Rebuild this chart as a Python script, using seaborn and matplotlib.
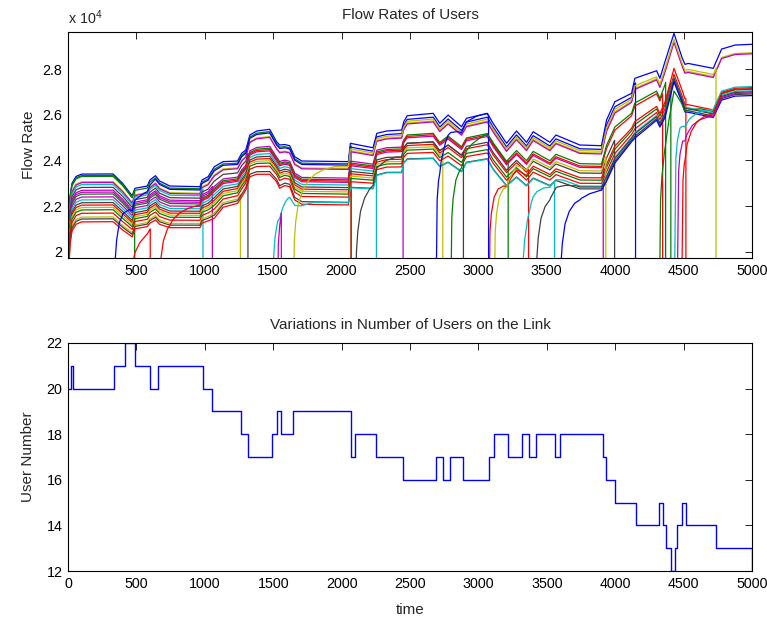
import numpy as np
import pandas as pd
import matplotlib
matplotlib.use("Agg")
import matplotlib.pyplot as plt
import seaborn as sns

# ---- link occupancy (step series) ----
step_time = [0, 25, 35, 336, 415, 488, 602, 658, 987, 1056, 1261, 1316, 1494, 1528,
             1560, 1645, 2070, 2099, 2255, 2450, 2689, 2740, 2796, 2891, 3075, 3113,
             3218, 3318, 3367, 3418, 3557, 3594, 3913, 3932, 3996, 4149, 4322, 4347,
             4369, 4407, 4434, 4454, 4486, 4517, 4737, 5000]
step_users = [20, 21, 20, 21, 22, 21, 20, 21, 20, 19, 18, 17, 18, 19,
              18, 19, 17, 18, 17, 16, 17, 16, 17, 16, 17, 18,
              17, 18, 17, 18, 17, 18, 17, 16, 15, 14, 15, 14,
              13, 12, 13, 14, 15, 14, 13, 12]

# ---- envelope of the rate band (highest / lowest settled user) ----
band_time = [0, 330, 400, 470, 490, 580, 600, 640, 670, 745, 965, 980, 1025, 1070,
             1135, 1240, 1270, 1300, 1330, 1380, 1475, 1525, 1548, 1585, 1621, 1658,
             1710, 2050, 2065, 2230, 2258, 2330, 2440, 2455, 2480, 2670, 2718, 2779,
             2877, 2913, 3065, 3108, 3206, 3279, 3352, 3401, 3523, 3567, 3742, 3900,
             3937, 3998, 4120, 4144, 4303, 4327, 4364, 4430, 4490, 4510, 4534, 4717,
             4778, 4876, 5000]
band_top = [23400, 23410, 23000, 22450, 22780, 22880, 23145, 23333, 23100, 22880, 22850,
            23145, 23290, 23728, 23950, 23975, 24316, 24460, 25118, 25294, 25369, 24825,
            24680, 24700, 24650, 24167, 23978, 23950, 24754, 24560, 25193, 25294, 25338,
            25702, 25965, 26070, 25632, 25996, 25483, 25851, 26070, 25632, 24754, 25294,
            24798, 25264, 24798, 25118, 24680, 24650, 25776, 26580, 26948, 27606, 27940,
            27606, 28334, 29579, 28500, 28219, 28260, 28044, 28890, 29066, 29100]
band_bottom = [21300, 21316, 20950, 20650, 21000, 21100, 21250, 21390, 21200, 21053, 21053,
               21250, 21350, 21465, 21950, 22120, 22400, 22700, 23290, 23395, 23395, 23070,
               22780, 22900, 22850, 22267, 22079, 22050, 22700, 22662, 23250, 23364, 23364,
               23800, 23950, 23978, 23627, 23800, 23395, 23800, 23950, 23500, 22780, 23150,
               22780, 23100, 22780, 23000, 22632, 22632, 23000, 23803, 24754, 24900, 25702,
               25400, 25800, 27386, 26465, 26070, 26050, 25820, 26580, 26755, 26780]

# ---- start-up transient (time since join, shortfall below settled rate) ----
ramp_dt = [0, 10, 20, 40, 70, 110, 160, 220, 300]
ramp_gap = [-9000, -3500, -2600, -1700, -1100, -650, -350, -150, 0]
# users present from the start settle much faster
start_dt = [0, 5, 15, 30, 60, 100]
start_gap = [-9000, -2500, -1000, -400, -100, 0]

# ---- users: admission time, departure time, position in band, colour ----
user_join = [0, 0, 0, 0, 0, 0, 0, 0, 0, 0, 0, 0, 0, 0, 0, 0, 0, 0, 0, 0,
             336, 415, 658, 1494, 1528, 1645, 2099, 2689, 2796, 3075, 3113,
             3318, 3418, 3594, 4322, 4434, 4454, 4486]
user_leave = [None, 488, 2070, None, None, 987, 1316, 1056, 2450, 3218, 3913, 2255,
              3996, 3367, 2740, 4407, 1261, None, None, 2070,
              4149, 602, 4347, 3557, 1560, 4737, 2891, 3075, 4369, 4517, 3932,
              None, None, None, None, None, None, None]
user_share = [1.00, 0.97, 0.95, 0.84, 0.82, 0.78, 0.72, 0.66, 0.62, 0.58, 0.52, 0.46,
              0.40, 0.35, 0.30, 0.25, 0.10, 0.18, 0.06, 0.00,
              0.92, 0.00, 0.55, 0.05, 0.50, 0.88, 0.40, 0.995, 0.60, 0.30, 0.45,
              0.12, 0.10, 0.03, 0.15, 0.20, 0.08, 0.16]
user_color = ["b", "g", "g", "y", "m", "c", "k", "m", "m", "g", "m", "c",
              "k", "r", "y", "g", "y", "r", "k", "r",
              "b", "r", "r", "c", "m", "y", "k", "b", "g", "r", "y",
              "c", "k", "b", "g", "c", "m", "r"]

matlab_colors = {"b": (0, 0, 1), "g": (0, 0.5, 0), "r": (1, 0, 0),
                 "c": (0, 0.75, 0.75), "m": (0.75, 0, 0.75),
                 "y": (0.75, 0.75, 0), "k": (0.25, 0.25, 0.25)}

T_END = 5000
FLOW_LOW, FLOW_HIGH = 19720, 29640
FS = 11
TICK_FS = 10.3


def user_track(join, leave, share):
    dts, gaps = (start_dt, start_gap) if join == 0 else (ramp_dt, ramp_gap)
    stop = T_END if leave is None else leave
    ts = sorted(set([join + d for d in dts if join + d < stop]
                    + [k for k in band_time if join < k < stop] + [stop]))
    ts = np.array(ts, dtype=float)
    top = np.interp(ts, band_time, band_top)
    bot = np.interp(ts, band_time, band_bottom)
    level = bot + share * (top - bot)
    level = level + np.interp(ts - join, dts, gaps)
    if leave is not None:
        ts = np.append(ts, leave)
        level = np.append(level, 12000)
    return ts, level


sns.set_theme(style="white")
plt.rcParams["font.family"] = ["Liberation Sans", "DejaVu Sans"]
plt.rcParams["mathtext.default"] = "regular"

fig = plt.figure(figsize=(7.67, 6.21), dpi=100)
ax1 = fig.add_axes([0.0887, 0.5845, 0.8917, 0.3640])
ax2 = fig.add_axes([0.0887, 0.0805, 0.8917, 0.3672])

frames = []
for i, (j, l, s) in enumerate(zip(user_join, user_leave, user_share)):
    ts, vs = user_track(j, l, s)
    frames.append(pd.DataFrame({"time": ts, "rate": vs, "user": i}))
flows = pd.concat(frames, ignore_index=True)

palette = {i: matlab_colors[c] for i, c in enumerate(user_color)}
sns.lineplot(data=flows, x="time", y="rate", hue="user", units="user",
             estimator=None, sort=False, palette=palette, legend=False,
             linewidth=0.9, ax=ax1)

ax1.set_xlim(1, T_END)
ax1.set_ylim(FLOW_LOW, FLOW_HIGH)
ax1.set_xticks([500, 1000, 1500, 2000, 2500, 3000, 3500, 4000, 4500, 5000])
ax1.set_yticks([20000, 22000, 24000, 26000, 28000])
ax1.set_yticklabels(["2", "2.2", "2.4", "2.6", "2.8"])
ax1.set_xlabel("")
ax1.set_ylabel("Flow Rate", fontsize=FS, labelpad=5)
ax1.set_title("Flow Rates of Users", fontsize=FS, pad=9)
ax1.text(0.0, 1.02, r"x 10$^{4}$", transform=ax1.transAxes, fontsize=TICK_FS,
         ha="left", va="bottom")

users = pd.DataFrame({"time": step_time, "users": step_users})
sns.lineplot(data=users, x="time", y="users", drawstyle="steps-post",
             color=(0, 0, 1), linewidth=1.0, ax=ax2)
ax2.set_xlim(0, T_END)
ax2.set_ylim(12, 22)
ax2.set_xticks([0, 500, 1000, 1500, 2000, 2500, 3000, 3500, 4000, 4500, 5000])
ax2.set_yticks([12, 14, 16, 18, 20, 22])
ax2.set_xlabel("time", fontsize=FS, labelpad=9)
ax2.set_ylabel("User Number", fontsize=FS, labelpad=8)
ax2.set_title("Variations in Number of Users on the Link", fontsize=FS, pad=10)

for ax in (ax1, ax2):
    for sp in ax.spines.values():
        sp.set_color("black")
        sp.set_linewidth(0.8)
    ax.tick_params(direction="in", length=5, width=0.6, top=True, right=True,
                   labelsize=TICK_FS, colors="black", pad=4)
    ax.set_facecolor("white")

fig.savefig("out.png", dpi=100, facecolor="white")
